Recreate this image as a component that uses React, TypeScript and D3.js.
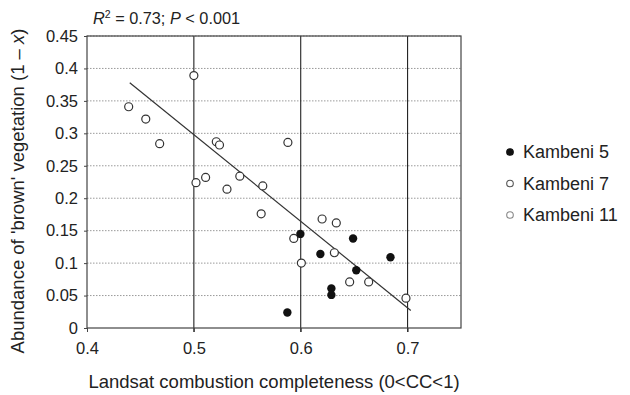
import React, { useEffect, useRef } from 'react'
import * as d3 from 'd3'

// Kambeni 5 (filled)
const k5X = [0.5997, 0.649, 0.6184, 0.684, 0.652, 0.6287, 0.6287, 0.5875]
const k5Y = [0.145, 0.138, 0.114, 0.109, 0.089, 0.061, 0.051, 0.024]

// Kambeni 7 (open)
const k7X = [0.439, 0.455, 0.468, 0.5, 0.521, 0.524, 0.502, 0.511, 0.531]
const k7Y = [0.341, 0.322, 0.284, 0.389, 0.287, 0.282, 0.224, 0.232, 0.214]

// Kambeni 11 (open)
const k11X = [0.543, 0.5645, 0.563, 0.588, 0.5935, 0.6006, 0.62, 0.6333, 0.6315, 0.6458, 0.6636, 0.6985]
const k11Y = [0.234, 0.219, 0.176, 0.286, 0.138, 0.1, 0.168, 0.162, 0.116, 0.071, 0.071, 0.046]

// regression line end points
const fitX = [0.44, 0.703]
const fitY = [0.378, 0.027]

const xTicks = [0.4, 0.5, 0.6, 0.7]
const yTicks = [0, 0.05, 0.1, 0.15, 0.2, 0.25, 0.3, 0.35, 0.4, 0.45]
const legendNames = ['Kambeni 5', 'Kambeni 7', 'Kambeni 11']

const W = 630
const H = 395
const FONT = 'Liberation Sans, Arial, Helvetica, sans-serif'

export default function App() {
    const svgRef = useRef<SVGSVGElement>(null)

    useEffect(() => {
        if (!svgRef.current) return
        const svg = d3.select(svgRef.current)
        svg.selectAll('*').remove()

        const left = 87, right = 461, top = 36, bottom = 328

        const x = d3.scaleLinear().domain([0.4, 0.75]).range([left, right])
        const y = d3.scaleLinear().domain([0, 0.45]).range([bottom, top])

        svg.append('rect').attr('width', W).attr('height', H).attr('fill', '#ffffff')

        // horizontal dotted grid
        svg.append('g').selectAll('line')
            .data(yTicks.filter(d => d > 0))
            .enter().append('line')
            .attr('x1', left).attr('x2', right)
            .attr('y1', d => y(d)).attr('y2', d => y(d))
            .attr('stroke', '#9a9a9a')
            .attr('stroke-width', 1)
            .attr('stroke-dasharray', '1.5,1.5')

        // vertical solid grid
        svg.append('g').selectAll('line')
            .data(xTicks.filter(d => d > 0.4))
            .enter().append('line')
            .attr('x1', d => x(d)).attr('x2', d => x(d))
            .attr('y1', top).attr('y2', bottom + 4)
            .attr('stroke', '#222')
            .attr('stroke-width', 1.1)

        // frame
        svg.append('rect')
            .attr('x', left).attr('y', top)
            .attr('width', right - left).attr('height', bottom - top)
            .attr('fill', 'none')
            .attr('stroke', '#444')
            .attr('stroke-width', 1.2)

        // y axis ticks + labels
        const yAxis = svg.append('g')
            .attr('transform', `translate(${left},0)`)
            .call(d3.axisLeft(y).tickValues(yTicks).tickSize(3).tickPadding(6).tickFormat(d => String(d)))
        yAxis.select('.domain').remove()
        yAxis.selectAll('line').attr('stroke', '#444')
        yAxis.selectAll('text').attr('font-family', FONT).attr('font-size', 16.5).attr('fill', '#222')

        // x axis ticks + labels
        const xAxis = svg.append('g')
            .attr('transform', `translate(0,${bottom})`)
            .call(d3.axisBottom(x).tickValues(xTicks).tickSize(4).tickPadding(10).tickFormat(d => String(d)))
        xAxis.select('.domain').remove()
        xAxis.selectAll('line').attr('stroke', '#444')
        xAxis.selectAll('text').attr('font-family', FONT).attr('font-size', 16.5).attr('fill', '#222')

        // regression line
        const line = d3.line<number>()
            .x(i => x(fitX[i]))
            .y(i => y(fitY[i]))
        svg.append('path')
            .datum(d3.range(fitX.length))
            .attr('d', line)
            .attr('fill', 'none')
            .attr('stroke', '#333')
            .attr('stroke-width', 1.2)

        // points
        const drawOpen = (xs: number[], ys: number[]) => {
            svg.append('g').selectAll('circle')
                .data(xs.map((v, i) => [v, ys[i]]))
                .enter().append('circle')
                .attr('cx', d => x(d[0])).attr('cy', d => y(d[1]))
                .attr('r', 4)
                .attr('fill', '#fff')
                .attr('stroke', '#333')
                .attr('stroke-width', 1.2)
        }
        drawOpen(k7X, k7Y)
        drawOpen(k11X, k11Y)

        svg.append('g').selectAll('circle')
            .data(k5X.map((v, i) => [v, k5Y[i]]))
            .enter().append('circle')
            .attr('cx', d => x(d[0])).attr('cy', d => y(d[1]))
            .attr('r', 4.2)
            .attr('fill', '#111')

        // legend
        const lg = svg.append('g')
        legendNames.forEach((name, i) => {
            const cy = 152 + i * 31.5
            lg.append('circle')
                .attr('cx', 510).attr('cy', cy)
                .attr('r', 3.3)
                .attr('fill', i === 0 ? '#111' : '#fff')
                .attr('stroke', i === 0 ? '#111' : i === 1 ? '#555' : '#888')
                .attr('stroke-width', 1.1)
            lg.append('text')
                .attr('x', 523).attr('y', cy + 6)
                .attr('font-family', FONT).attr('font-size', 18).attr('fill', '#222')
                .text(name)
        })

        // statistics text
        const st = svg.append('text')
            .attr('x', 93).attr('y', 24)
            .attr('font-family', FONT).attr('font-size', 16.3).attr('fill', '#222')
        st.append('tspan').attr('font-style', 'italic').text('R')
        st.append('tspan').attr('font-size', 10.5).attr('dy', -6).text('2')
        st.append('tspan').attr('dy', 6).text(' = 0.73; ')
        st.append('tspan').attr('font-style', 'italic').text('P')
        st.append('tspan').text(' < 0.001')

        // x title
        svg.append('text')
            .attr('x', (left + right) / 2).attr('y', 388)
            .attr('text-anchor', 'middle')
            .attr('font-family', FONT).attr('font-size', 18.5).attr('fill', '#222')
            .text('Landsat combustion completeness (0<CC<1)')

        // y title
        const yt = svg.append('text')
            .attr('transform', `translate(24,191) rotate(-90)`)
            .attr('text-anchor', 'middle')
            .attr('font-family', FONT).attr('font-size', 18.5).attr('fill', '#222')
        yt.append('tspan').text("Abundance of 'brown' vegetation (1 \u2013 ")
        yt.append('tspan').attr('font-style', 'italic').text('x')
        yt.append('tspan').text(')')
    }, [])

    return (
        <div style={{ position: 'absolute', left: 0, top: 0 }}>
            <svg ref={svgRef} width={W} height={H} viewBox={`0 0 ${W} ${H}`} style={{ display: 'block' }} />
        </div>
    )
}
